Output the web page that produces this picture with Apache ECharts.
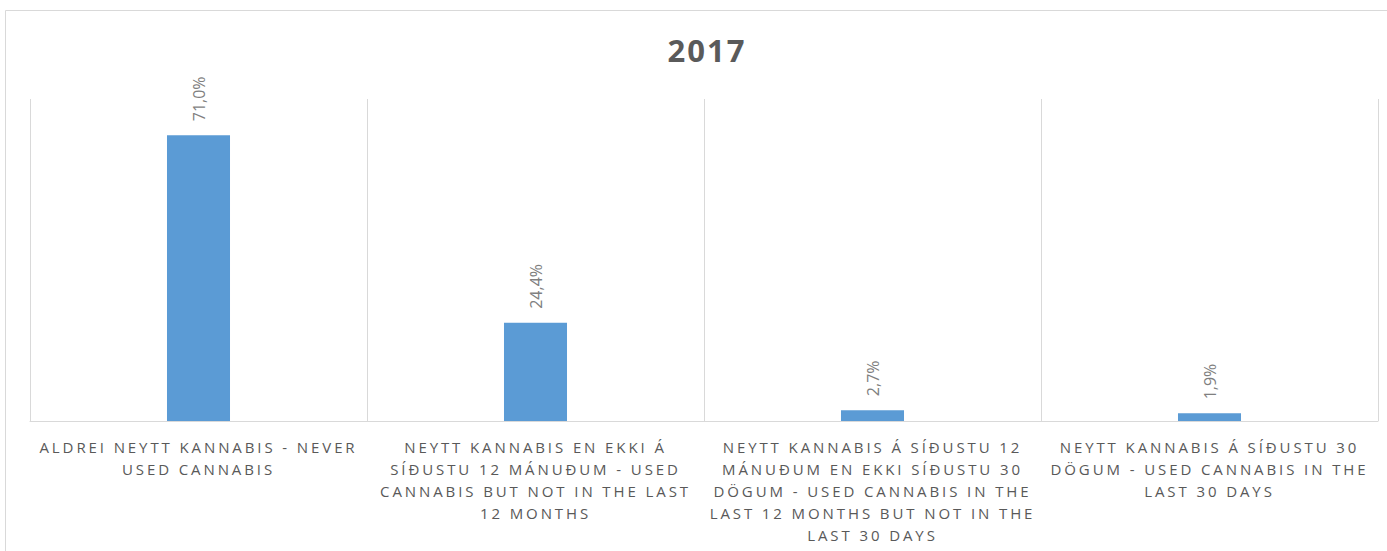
<!DOCTYPE html>
<html>
<head>
<meta charset="utf-8">
<script src="https://cdn.jsdelivr.net/npm/echarts@6/dist/echarts.min.js"></script>
<style>
  html, body { margin: 0; padding: 0; background: #fff; }
  #chart { width: 1387px; height: 551px; }
  #chart text[fill="#595959"] { letter-spacing: 2.9px; }
  #chart text[fill="#5a5a5a"] { letter-spacing: 2px; }
</style>
</head>
<body>
<div id="chart"></div>
<script>
const titleText = '2017';
const categories = [
  'ALDREI NEYTT KANNABIS - NEVER\nUSED CANNABIS',
  'NEYTT KANNABIS EN EKKI Á\nSÍÐUSTU 12 MÁNUÐUM - USED\nCANNABIS BUT NOT IN THE LAST\n12 MONTHS',
  'NEYTT KANNABIS Á SÍÐUSTU 12\nMÁNUÐUM EN EKKI SÍÐUSTU 30\nDÖGUM - USED CANNABIS IN THE\nLAST 12 MONTHS BUT NOT IN THE\nLAST 30 DAYS',
  'NEYTT KANNABIS Á SÍÐUSTU 30\nDÖGUM - USED CANNABIS IN THE\nLAST 30 DAYS'
];
const values = [71.0, 24.4, 2.7, 1.9];

const chart = echarts.init(document.getElementById('chart'), null, { renderer: 'svg' });
chart.setOption({
  animation: false,
  title: {
    text: titleText,
    left: 702, top: 29,
    textAlign: 'center',
    textStyle: { fontFamily: 'Open Sans', fontSize: 31, fontWeight: 'bold', color: '#5a5a5a' }
  },
  graphic: [{
    type: 'rect',
    shape: { x: 5.5, y: 10.5, width: 1400, height: 600 },
    style: { fill: 'none', stroke: '#d9d9d9', lineWidth: 1 },
    silent: true, z: -1
  }],
  grid: { left: 30, right: 9, top: 99, bottom: 130 },
  xAxis: {
    type: 'category',
    data: categories,
    axisLine: { lineStyle: { color: '#d9d9d9', width: 1 } },
    axisTick: { show: false },
    splitLine: { show: true, lineStyle: { color: '#d9d9d9', width: 1 } },
    axisLabel: {
      interval: 0, margin: 15,
      fontFamily: 'Open Sans', fontSize: 15, color: '#595959', lineHeight: 22
    }
  },
  yAxis: {
    type: 'value', min: 0, max: 80,
    show: false,
    splitLine: { show: false }
  },
  series: [{
    type: 'bar',
    data: values,
    barWidth: '18.7%',
    itemStyle: { color: '#5b9bd5' },
    label: {
      show: true, position: 'top', rotate: 90, distance: 14,
      align: 'left', verticalAlign: 'middle',
      fontFamily: 'Open Sans', fontSize: 16, color: '#7f7f7f',
      formatter: p => p.value.toFixed(1).replace('.', ',') + '%'
    }
  }]
});
</script>
</body>
</html>
